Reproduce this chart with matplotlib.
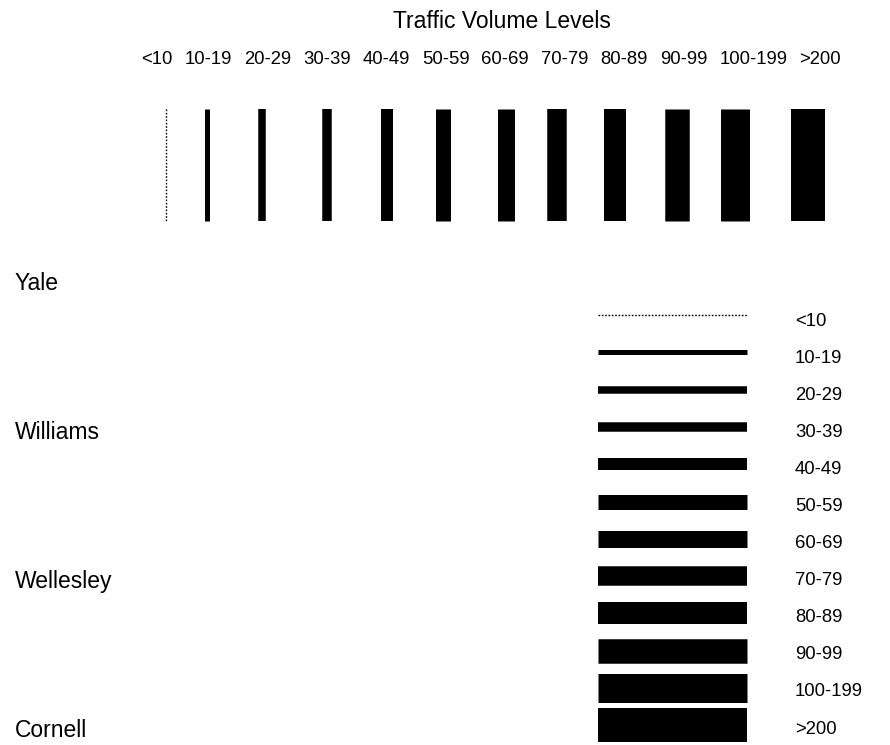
import matplotlib
matplotlib.use('Agg')
import matplotlib.pyplot as plt

# traffic volume classes and the edge width (px) used for each one
levels = ['<10', '10-19', '20-29', '30-39', '40-49', '50-59', '60-69',
          '70-79', '80-89', '90-99', '100-199', '>200']
widths_px = [1, 5, 7.5, 9.5, 12, 15, 17, 19.5, 22, 24.5, 29, 34]
nodes = ['Yale', 'Williams', 'Wellesley', 'Cornell']

# layout (pixel coordinates of the 890x745 canvas)
bar_x = [165.5, 207, 262, 327, 386.5, 443, 506, 557, 615, 677, 735, 808]
PX = 72 / 100  # px -> points at dpi 100

fig = plt.figure(figsize=(8.9, 7.45), dpi=100)
ax = fig.add_axes([0, 0, 1, 1])
ax.set_xlim(0, 890)
ax.set_ylim(745, 0)
ax.axis('off')

font = 'Liberation Sans'
big = 16.5
small = 13.3
dotted = (0, (1.2, 1.2))

ax.text(502, 21, 'Traffic Volume Levels', ha='center', va='center',
        fontsize=big, family=font)

# column labels, laid out one after another with a fixed gap
renderer = fig.canvas.get_renderer()
x = 141
for lab in levels:
    t = ax.text(x, 60, lab, ha='left', va='center', fontsize=small, family=font)
    bb = t.get_window_extent(renderer)
    x += bb.width + 12

# vertical sample bars
for i, (lab, w) in enumerate(zip(levels, widths_px)):
    if lab == '<10':
        ax.vlines(bar_x[i], 109, 221, color='black', linewidth=1.0,
                  linestyles=dotted)
    else:
        ax.vlines(bar_x[i], 109, 221, color='black', linewidth=w * PX,
                  capstyle='butt')

# node names on the left
for i, name in enumerate(nodes):
    ax.text(15, 283 + i * 149.3, name, ha='left', va='center',
            fontsize=big, family=font)

# horizontal legend on the right
for i, (lab, w) in enumerate(zip(levels, widths_px)):
    ly = 315 + i * 37.3
    if lab == '<10':
        ax.hlines(ly, 598, 747, color='black', linewidth=1.0,
                  linestyles=dotted)
    else:
        ax.hlines(ly, 598, 747, color='black', linewidth=w * PX,
                  capstyle='butt')
    ax.text(795, 321 + i * 37.1, lab, ha='left', va='center',
            fontsize=small, family=font)

fig.savefig('out.png', dpi=100)
